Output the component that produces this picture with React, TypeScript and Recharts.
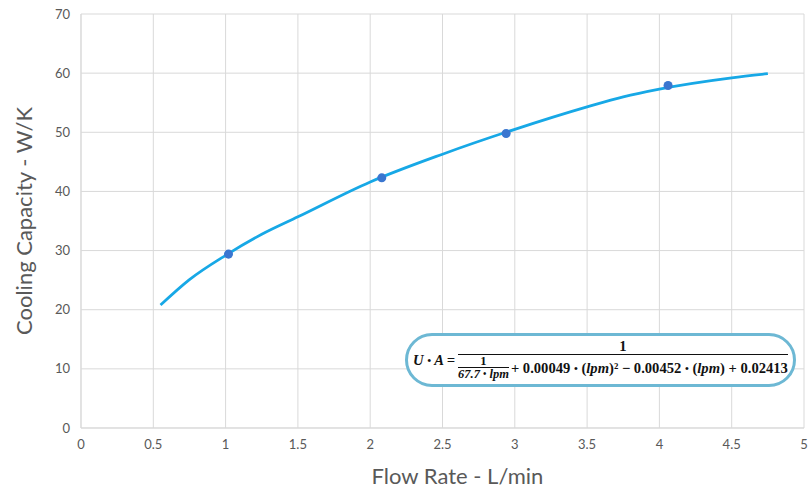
import { ComposedChart, XAxis, YAxis, CartesianGrid, Line, Scatter } from 'recharts'

// fitted curve
const curveFlow = [0.55, 0.75, 1.0, 1.25, 1.5, 2.0, 2.5, 3.0, 3.5, 3.75, 4.0, 4.5, 4.75]
const curveCapacity = [20.8, 25.1, 29.2, 32.75, 35.7, 41.6, 46.3, 50.5, 54.3, 56.0, 57.3, 59.2, 59.9]

// measured points
const measuredFlow = [1.02, 2.08, 2.94, 4.06]
const measuredCapacity = [29.4, 42.3, 49.8, 57.9]

const xTicks = [0, 0.5, 1, 1.5, 2, 2.5, 3, 3.5, 4, 4.5, 5]
const yTicks = [0, 10, 20, 30, 40, 50, 60, 70]

const curveData = curveFlow.map((x, i) => ({ x, y: curveCapacity[i] }))
const pointData = measuredFlow.map((x, i) => ({ x, y: measuredCapacity[i] }))

const tickStyle = { fontFamily: 'Lato, sans-serif', fontSize: 13, fill: '#595959' }
const titleStyle = { fontFamily: 'Lato, sans-serif', fontSize: 22, fill: '#595959' }

const dot = <span style={{ fontSize: '0.75em', verticalAlign: '0.1em' }}>•</span>

function Formula() {
  return (
    <div
      style={{
        position: 'absolute',
        left: 405,
        top: 333,
        width: 391,
        height: 54,
        boxSizing: 'border-box',
        border: '3px solid #6db8d4',
        borderRadius: 27,
        background: '#fff',
        display: 'flex',
        alignItems: 'center',
        fontFamily: '"Liberation Serif", serif',
        fontWeight: 'bold',
        fontSize: 14.6,
        color: '#111',
        whiteSpace: 'nowrap'
      }}
    >
      <span style={{ fontStyle: 'italic', marginLeft: 5 }}>U {dot} A =</span>
      <div style={{ display: 'flex', flexDirection: 'column', alignItems: 'center', marginLeft: 3 }}>
        <div style={{ lineHeight: '15px' }}>1</div>
        <div style={{ borderTop: '1.5px solid #111', display: 'flex', alignItems: 'center', paddingTop: 1 }}>
          <div style={{ display: 'flex', flexDirection: 'column', alignItems: 'center', fontSize: 12.5 }}>
            <div style={{ lineHeight: '11px' }}>1</div>
            <div style={{ borderTop: '1px solid #111', lineHeight: '12px', fontStyle: 'italic' }}>67.7 {dot} lpm</div>
          </div>
          <span style={{ marginLeft: 2 }}>
            + 0.00049 {dot} (<i>lpm</i>)² − 0.00452 {dot} (<i>lpm</i>) + 0.02413
          </span>
        </div>
      </div>
    </div>
  )
}

export default function App() {
  return (
    <div style={{ position: 'fixed', left: 0, top: 0, width: 808, height: 490, background: '#fff' }}>
      <ComposedChart width={808} height={490} margin={{ top: 14, right: 4, left: 0, bottom: 0 }}>
        <CartesianGrid stroke="#d9d9d9" strokeWidth={1} />
        <XAxis
          type="number"
          dataKey="x"
          domain={[0, 5]}
          ticks={xTicks}
          height={62}
          tickLine={false}
          tickMargin={6}
          axisLine={{ stroke: '#d9d9d9' }}
          tick={tickStyle}
          label={{ value: 'Flow Rate - L/min', position: 'center', dx: 15, dy: 17, style: titleStyle }}
        />
        <YAxis
          type="number"
          dataKey="y"
          domain={[0, 70]}
          ticks={yTicks}
          width={81}
          tickLine={false}
          tickMargin={5}
          axisLine={{ stroke: '#d9d9d9' }}
          tick={tickStyle}
          label={{ value: 'Cooling Capacity - W/K', position: 'center', angle: -90, dx: -16, style: titleStyle }}
        />
        <Line
          data={curveData}
          dataKey="y"
          type="monotone"
          stroke="#17a8e6"
          strokeWidth={2.75}
          dot={false}
          activeDot={false}
          isAnimationActive={false}
        />
        <Scatter data={pointData} dataKey="y" fill="#3a76d0" shape="circle" isAnimationActive={false} />
      </ComposedChart>
      <Formula />
    </div>
  )
}
